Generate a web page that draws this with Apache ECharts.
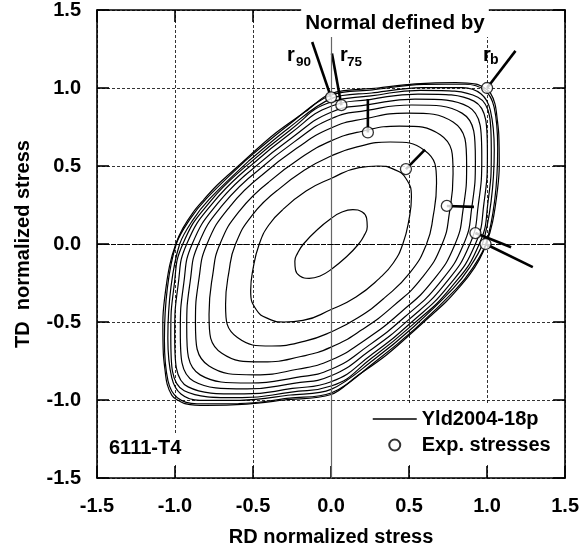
<!DOCTYPE html>
<html><head><meta charset="utf-8">
<script src="https://cdn.jsdelivr.net/npm/echarts@6.0.0/dist/echarts.min.js"></script>
<style>html,body{margin:0;padding:0;background:#fff}#c{width:582px;height:552px}</style>
</head><body><div id="c"></div>
<script>
const axisMin = -1.5, axisMax = 1.5, axisStep = 0.5;
const xTickLabels = ['-1.5','-1.0','-0.5','0.0','0.5','1.0','1.5'];
const yTickLabels = ['-1.5','-1.0','-0.5','0.0','0.5','1.0','1.5'];
const legendNames = ['Yld2004-18p','Exp. stresses'];

const contour0 = [[-0.545,0.545],[-0.65,0.45],[-0.737,0.37],[-0.815,0.285],[-0.886,0.2],[-0.95,0.1],[-0.995,0],[-1.035,-0.14],[-1.067,-0.35],[-1.078,-0.5],[-1.075,-0.7],[-1.065,-0.8],[-1.05,-0.9],[-1.02,-0.97],[-0.99,-0.997],[-0.93,-1.025],[-0.8,-1.035],[-0.54,-1.026],[-0.3,-1.0],[0,-0.965],[0.163,-0.849],[0.355,-0.711],[0.545,-0.545],[0.65,-0.45],[0.737,-0.37],[0.815,-0.285],[0.886,-0.2],[0.95,-0.1],[0.995,0],[1.035,0.14],[1.067,0.35],[1.078,0.5],[1.075,0.7],[1.065,0.8],[1.05,0.9],[1.02,0.97],[0.99,0.997],[0.93,1.025],[0.8,1.035],[0.54,1.026],[0.3,1.0],[0,0.965],[-0.163,0.849],[-0.355,0.711],[-0.545,0.545]];
const contour1 = [[-0.541,0.541],[-0.799,0.291],[-0.904,0.159],[-0.992,0],[-1.049,-0.281],[-1.068,-0.616],[-1.045,-0.877],[-0.985,-0.985],[-0.859,-1.024],[-0.593,-1.023],[-0.265,-0.988],[0,-0.955],[0.277,-0.760],[0.541,-0.541],[0.799,-0.291],[0.904,-0.159],[0.992,0],[1.049,0.281],[1.068,0.616],[1.045,0.877],[0.985,0.985],[0.859,1.024],[0.593,1.023],[0.265,0.988],[0,0.955],[-0.277,0.760],[-0.541,0.541]];
const contour2 = [[-0.530,0.530],[-0.783,0.285],[-0.885,0.155],[-0.970,0],[-1.026,-0.275],[-1.046,-0.604],[-1.021,-0.857],[-0.962,-0.962],[-0.842,-1.003],[-0.581,-1.002],[-0.260,-0.968],[0,-0.932],[0.271,-0.744],[0.530,-0.530],[0.783,-0.285],[0.885,-0.155],[0.970,0],[1.026,0.275],[1.046,0.604],[1.021,0.857],[0.962,0.962],[0.842,1.003],[0.581,1.002],[0.260,0.968],[0,0.932],[-0.271,0.744],[-0.530,0.530]];
const contour3 = [[-0.520,0.520],[-0.768,0.280],[-0.950,0],[-1.006,-0.269],[-1.027,-0.592],[-0.941,-0.941],[-0.571,-0.985],[-0.254,-0.949],[0,-0.910],[0.265,-0.728],[0.520,-0.520],[0.768,-0.280],[0.950,0],[1.006,0.269],[1.027,0.592],[0.941,0.941],[0.571,0.985],[0.254,0.949],[0,0.910],[-0.265,0.728],[-0.520,0.520]];
const contour4 = [[-0.508,0.508],[-0.749,0.273],[-0.925,0],[-0.980,-0.262],[-1.002,-0.578],[-0.916,-0.916],[-0.557,-0.961],[-0.248,-0.926],[0,-0.883],[0.259,-0.710],[0.508,-0.508],[0.749,-0.273],[0.925,0],[0.980,0.262],[1.002,0.578],[0.916,0.916],[0.557,0.961],[0.248,0.926],[0,0.883],[-0.259,0.710],[-0.508,0.508]];
const contour5 = [[-0.491,0.491],[-0.724,0.263],[-0.890,0],[-0.944,-0.253],[-0.966,-0.558],[-0.880,-0.880],[-0.538,-0.929],[-0.240,-0.893],[0,-0.845],[0.249,-0.683],[0.491,-0.491],[0.724,-0.263],[0.890,0],[0.944,0.253],[0.966,0.558],[0.880,0.880],[0.538,0.929],[0.240,0.893],[0,0.845],[-0.249,0.683],[-0.491,0.491]];
const contour6 = [[-0.470,0.470],[-0.693,0.252],[-0.850,0],[-0.903,-0.242],[-0.925,-0.534],[-0.839,-0.839],[-0.516,-0.891],[-0.229,-0.856],[0,-0.803],[0.238,-0.653],[0.470,-0.470],[0.693,-0.252],[0.850,0],[0.903,0.242],[0.925,0.534],[0.839,0.839],[0.516,0.891],[0.229,0.856],[0,0.803],[-0.238,0.653],[-0.470,0.470]];
const contour7 = [[-0.442,0.442],[-0.651,0.237],[-0.795,0],[-0.847,-0.227],[-0.869,-0.502],[-0.782,-0.782],[-0.487,-0.839],[-0.215,-0.803],[0,-0.744],[0.223,-0.612],[0.442,-0.442],[0.651,-0.237],[0.795,0],[0.847,0.227],[0.869,0.502],[0.782,0.782],[0.487,0.839],[0.215,0.803],[0,0.744],[-0.223,0.612],[-0.442,0.442]];
const contour8 = [[-0.398,0.398],[-0.586,0.213],[-0.712,0],[-0.759,-0.203],[-0.782,-0.451],[-0.700,-0.700],[-0.438,-0.756],[-0.193,-0.721],[0,-0.661],[0.200,-0.548],[0.398,-0.398],[0.586,-0.213],[0.712,0],[0.759,0.203],[0.782,0.451],[0.700,0.700],[0.438,0.756],[0.193,0.721],[0,0.661],[-0.200,0.548],[-0.398,0.398]];
const contour9 = [[-0.344,0.344],[-0.506,0.184],[-0.612,0],[-0.654,-0.175],[-0.676,-0.390],[-0.600,-0.600],[-0.379,-0.654],[-0.167,-0.623],[0,-0.564],[0.172,-0.473],[0.344,-0.344],[0.506,-0.184],[0.612,0],[0.654,0.175],[0.676,0.390],[0.600,0.600],[0.379,0.654],[0.167,0.623],[0,0.564],[-0.172,0.473],[-0.344,0.344]];
const contour10 = [[-0.31,0.22],[-0.40,0.12],[-0.46,0],[-0.50,-0.16],[-0.515,-0.30],[-0.48,-0.42],[-0.40,-0.48],[-0.30,-0.50],[-0.18,-0.49],[0,-0.42],[0.16,-0.34],[0.31,-0.22],[0.40,-0.12],[0.46,0],[0.50,0.16],[0.515,0.30],[0.48,0.42],[0.40,0.48],[0.30,0.50],[0.18,0.49],[0,0.42],[-0.16,0.34],[-0.31,0.22]];
const contour11 = [[-0.09,0.09],[-0.177,0],[-0.215,-0.06],[-0.232,-0.11],[-0.228,-0.165],[-0.20,-0.205],[-0.14,-0.22],[-0.07,-0.205],[0,-0.163],[0.09,-0.09],[0.177,0],[0.215,0.06],[0.232,0.11],[0.228,0.165],[0.20,0.205],[0.14,0.22],[0.07,0.205],[0,0.163],[-0.09,0.09]];

const expStresses = [[0.0,0.94],[0.066,0.89],[0.236,0.715],[0.48,0.48],[0.742,0.244],[0.925,0.07],[0.99,0.0],[1.0,1.0]];
const normalEnds = [[-0.121,1.295],[0.006,1.221],[0.236,0.93],[0.602,0.605],[0.916,0.238],[1.154,-0.021],[1.293,-0.148],[1.182,1.238]];

const contours = [contour0,contour1,contour2,contour3,contour4,contour5,contour6,contour7,contour8,contour9,contour10,contour11];
const FONT = '"Liberation Sans", Arial, Helvetica, sans-serif';

function tickFmt(labels){ return function(v){ return labels[Math.round((v - axisMin)/axisStep)] || ''; }; }

const chart = echarts.init(document.getElementById('c'), null, {renderer:'canvas'});

const series = [];
contours.forEach(function(c, i){
  const s = {
    name: legendNames[0], type:'line', data:c, smooth: i < 3 ? 0.35 : 0.5,
    symbol:'none', silent:true, z:2,
    itemStyle:{color:'#000'},
    lineStyle:{color:'#000', width:1.2}
  };
  if (i === 0) {
    s.markLine = {silent:true, symbol:'none', label:{show:false}, animation:false,
      data:[{xAxis:0, lineStyle:{color:'#666', width:1.2, type:'solid'}},
            {yAxis:0, lineStyle:{color:'#000', width:1, type:[5,2]}}]};
  }
  series.push(s);
});
expStresses.forEach(function(p, i){
  series.push({type:'line', data:[p, normalEnds[i]], symbol:'none', silent:true, z:3,
    lineStyle:{color:'#000', width:2.6}});
});
series.push({name:legendNames[1], type:'scatter', data:expStresses, symbol:'circle', symbolSize:11, z:5,
  itemStyle:{color:'#fff', borderColor:'#000', borderWidth:1.3}});

const baseAxis = {
  type:'value', min:axisMin, max:axisMax, interval:axisStep,
  axisLine:{show:true, onZero:false, lineStyle:{color:'#000', width:1.6}},
  axisTick:{show:true, inside:true, length:12, lineStyle:{color:'#000', width:1.6}},
};

const option = {
  animation:false,
  backgroundColor:'#fff',
  grid:{left:97, right:14, top:9, bottom:71, containLabel:false},
  xAxis:[
    Object.assign({}, baseAxis, {position:'bottom',
      axisLabel:{show:true, margin:18, color:'#000', fontSize:20, fontWeight:'bold', fontFamily:FONT, formatter:tickFmt(xTickLabels)},
      splitLine:{show:true, lineStyle:{color:'#000', width:0.8, type:[3,2]}},
      name:'RD normalized stress', nameLocation:'middle', nameGap:49,
      nameTextStyle:{color:'#000', fontSize:20, fontWeight:'bold', fontFamily:FONT}}),
    Object.assign({}, baseAxis, {position:'top', axisLabel:{show:false}, splitLine:{show:false}})
  ],
  yAxis:[
    Object.assign({}, baseAxis, {position:'left',
      axisLabel:{show:true, margin:16, color:'#000', fontSize:20, fontWeight:'bold', fontFamily:FONT, formatter:tickFmt(yTickLabels)},
      splitLine:{show:true, lineStyle:{color:'#000', width:0.8, type:[3,2]}},
      name:'TD  normalized stress', nameLocation:'middle', nameGap:64, nameRotate:90,
      nameTextStyle:{color:'#000', fontSize:20, fontWeight:'bold', fontFamily:FONT}}),
    Object.assign({}, baseAxis, {position:'right', axisLabel:{show:false}, splitLine:{show:false}})
  ],
  legend:{
    data:[{name:legendNames[0], itemStyle:{opacity:0}, lineStyle:{color:'#000', width:1.5}}, {name:legendNames[1]}],
    orient:'vertical', left:362, top:403, selectedMode:false,
    itemWidth:44, itemHeight:11, itemGap:6, padding:[6,11,10,10],
    backgroundColor:'#fff', z:20,
    textStyle:{color:'#000', fontSize:20, fontWeight:'bold', fontFamily:FONT}
  },
  graphic:[
    {type:'text', x:395, y:23, z:100, style:{text:'Normal defined by', font:'bold 20.6px '+FONT, fill:'#000',
      textAlign:'center', textVerticalAlign:'middle', backgroundColor:'#fff', padding:[3,4,4,4]}},
    {type:'text', x:287, y:55, z:100, style:{text:'r', font:'bold 20px '+FONT, fill:'#000', textVerticalAlign:'middle'}},
    {type:'text', x:296, y:62, z:100, style:{text:'90', font:'bold 13.5px '+FONT, fill:'#000', textVerticalAlign:'middle'}},
    {type:'text', x:340, y:55, z:100, style:{text:'r', font:'bold 20px '+FONT, fill:'#000', textVerticalAlign:'middle'}},
    {type:'text', x:347, y:62, z:100, style:{text:'75', font:'bold 13.5px '+FONT, fill:'#000', textVerticalAlign:'middle'}},
    {type:'text', x:483, y:55, z:100, style:{text:'r', font:'bold 20px '+FONT, fill:'#000', textVerticalAlign:'middle'}},
    {type:'text', x:490, y:60, z:100, style:{text:'b', font:'bold 14px '+FONT, fill:'#000', textVerticalAlign:'middle'}},
    {type:'text', x:106, y:448, z:100, style:{text:'6111-T4', font:'bold 20px '+FONT, fill:'#000',
      textVerticalAlign:'middle', backgroundColor:'#fff', padding:[4,3,6,3]}}
  ],
  series:series
};
chart.setOption(option);
</script>
</body></html>
